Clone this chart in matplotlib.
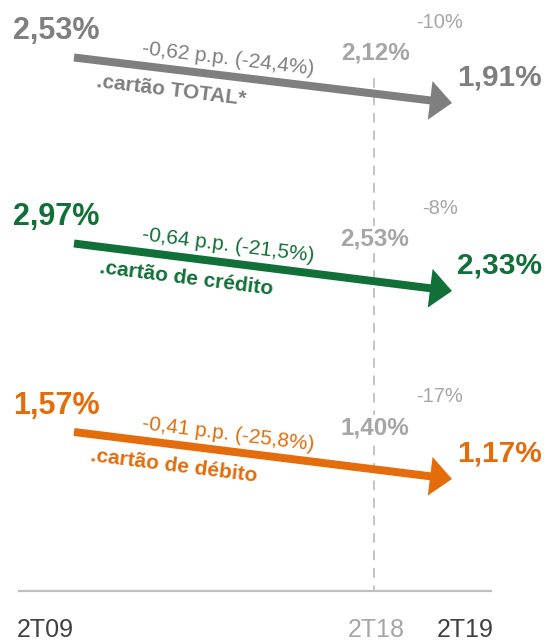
import math

import matplotlib.pyplot as plt
from matplotlib.patches import FancyArrow

plt.rcParams["font.family"] = ["Liberation Sans", "DejaVu Sans"]

# data
periods = ["2T09", "2T18", "2T19"]
series = [".cartão TOTAL*", ".cartão de crédito", ".cartão de débito"]
v_2t09 = ["2,53%", "2,97%", "1,57%"]
v_2t18 = ["2,12%", "2,53%", "1,40%"]
v_2t19 = ["1,91%", "2,33%", "1,17%"]
change_pp = ["-0,62 p.p. (-24,4%)", "-0,64 p.p. (-21,5%)", "-0,41 p.p. (-25,8%)"]
change_vs_2t18 = ["-10%", "-8%", "-17%"]

# layout (pixel-like units, y grows downward)
colors = ["#7f7f7f", "#117038", "#e46c0a"]
light = "#a6a6a6"
dark = "#404040"
row_y = [57.5, 243.5, 432]
row_drop = [45.5, 47.5, 47]
name_x = [97, 100, 91]
x_start, x_tip = 74, 452
x_18 = 374
x_var = 440
period_x = [17, x_18 + 2, 465]

fig = plt.figure(figsize=(5.47, 6.41), dpi=100)
ax = fig.add_axes([0, 0, 1, 1])
ax.set_xlim(0, 547)
ax.set_ylim(641, 0)
ax.axis("off")

# baseline and 2T18 marker
ax.plot([19, 491], [591, 591], color="#bfbfbf", lw=1.6, zorder=1)
ax.plot([x_18, x_18], [78, 591], color="#c4c4c4", lw=1.4, ls=(0, (5, 4)), zorder=1)

for i, name in enumerate(series):
    c = colors[i]
    y0 = row_y[i]
    y1 = y0 + row_drop[i]
    dx, dy = x_tip - x_start, y1 - y0
    slope = dy / dx
    ang = -math.degrees(math.atan(slope))
    ax.add_patch(FancyArrow(x_start, y0, dx, dy, width=8, head_width=39,
                            head_length=22, length_includes_head=True,
                            color=c, lw=0, zorder=3))

    ax.text(13, y0 - 18, v_2t09[i], color=c, fontsize=22, fontweight="bold",
            ha="left", va="baseline")
    ax.text(142, y0 + (142 - x_start) * slope - 17, change_pp[i], color=c,
            fontsize=15, rotation=ang, rotation_mode="anchor",
            ha="left", va="center")
    nx = name_x[i]
    ax.text(nx, y0 + (nx - x_start) * slope + 21, name, color=c,
            fontsize=15, fontweight="bold", rotation=ang,
            rotation_mode="anchor", ha="left", va="center")
    ax.text(x_18 + 1, y0 + 2, v_2t18[i], color=light, fontsize=17.5,
            fontweight="bold", ha="center", va="baseline", zorder=2,
            bbox=dict(facecolor="white", edgecolor="none", pad=1))
    ax.text(x_var, y0 - 30, change_vs_2t18[i], color=light, fontsize=14.5,
            ha="center", va="baseline")
    ax.text(542, y1 - 17.5, v_2t19[i], color=c, fontsize=21.5,
            fontweight="bold", ha="right", va="baseline")

tick_colors = [dark, light, dark]
tick_ha = ["left", "center", "center"]
for p, x, tc, ha in zip(periods, period_x, tick_colors, tick_ha):
    ax.text(x, 637, p, color=tc, fontsize=18, ha=ha, va="baseline")

fig.savefig("out.png", dpi=100)
